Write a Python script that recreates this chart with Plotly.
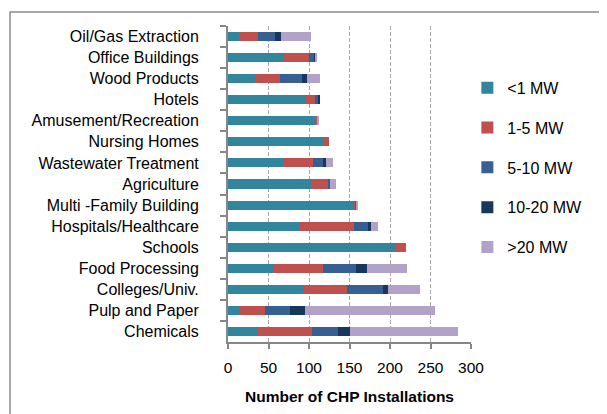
import plotly.graph_objects as go

# Categories listed top to bottom as shown in the chart
categories = [
    "Oil/Gas Extraction", "Office Buildings", "Wood Products", "Hotels",
    "Amusement/Recreation", "Nursing Homes", "Wastewater Treatment",
    "Agriculture", "Multi -Family Building", "Hospitals/Healthcare",
    "Schools", "Food Processing", "Colleges/Univ.", "Pulp and Paper",
    "Chemicals",
]

lt_1mw = [14, 69, 33, 96, 107, 119, 69, 104, 154, 88, 206, 57, 92, 15, 36]
mw_1_5 = [23, 31, 31, 11, 3, 6, 36, 19, 4, 67, 14, 60, 55, 31, 68]
mw_5_10 = [21, 7, 27, 5, 0.5, 0, 12, 3, 1, 18, 0, 41, 44, 31, 32]
mw_10_20 = [7, 1, 7, 1, 0, 0, 4, 0, 0, 4, 0, 13, 7, 18, 15]
gt_20mw = [37, 1, 15, 0, 2, 0, 9, 7, 2, 8, 0, 50, 39, 160, 133]

series = [
    ("<1 MW", lt_1mw, "#31859C"),
    ("1-5 MW", mw_1_5, "#C0504D"),
    ("5-10 MW", mw_5_10, "#376092"),
    ("10-20 MW", mw_10_20, "#17375E"),
    (">20 MW", gt_20mw, "#B3A2C7"),
]

FONT = "Liberation Sans, Arial, sans-serif"

fig = go.Figure()

for i, (name, vals, color) in enumerate(series):
    fig.add_trace(
        go.Bar(
            y=categories,
            x=vals,
            name=name,
            orientation="h",
            marker=dict(color=color, line=dict(width=0)),
            legendgroup=f"g{i}",
        )
    )

# the page body adds an 8px offset, so everything is shifted up/left by 8
fig.update_layout(
    barmode="stack",
    bargap=0.57,
    width=607,
    height=414,
    margin=dict(l=220, r=144, t=18, b=80),
    paper_bgcolor="white",
    plot_bgcolor="white",
    font=dict(family=FONT, size=16, color="#000000"),
    legend=dict(
        x=0.985,
        xanchor="left",
        y=0.858,
        yanchor="top",
        traceorder="grouped",
        tracegroupgap=16,
        font=dict(size=16),
        bgcolor="rgba(0,0,0,0)",
    ),
    shapes=[
        dict(
            type="rect",
            xref="paper",
            yref="paper",
            x0=-0.897,
            x1=1.8,
            y0=-0.4,
            y1=1.044,
            line=dict(color="#8C8C8C", width=1.5),
            fillcolor="rgba(0,0,0,0)",
            layer="below",
        )
    ],
)

fig.update_xaxes(
    range=[0, 300],
    tickvals=[0, 50, 100, 150, 200, 250, 300],
    showgrid=True,
    gridcolor="#A6A6A6",
    griddash="4px,2px",
    gridwidth=1.4,
    zeroline=False,
    showline=True,
    linecolor="#868686",
    linewidth=2,
    ticks="outside",
    ticklen=5,
    tickcolor="#868686",
    tickwidth=1.5,
    ticklabelstandoff=5,
    tickfont=dict(size=15.5),
    title=dict(
        text="<b>Number of CHP Installations</b>",
        font=dict(size=15.5),
        standoff=17,
    ),
)

fig.update_yaxes(
    autorange="reversed",
    showgrid=False,
    showline=True,
    linecolor="#868686",
    linewidth=2,
    ticks="outside",
    tickson="boundaries",
    ticklen=6,
    tickcolor="#868686",
    tickwidth=1.5,
    ticklabelstandoff=24,
    tickfont=dict(size=16),
)

fig.write_html("out.html")
